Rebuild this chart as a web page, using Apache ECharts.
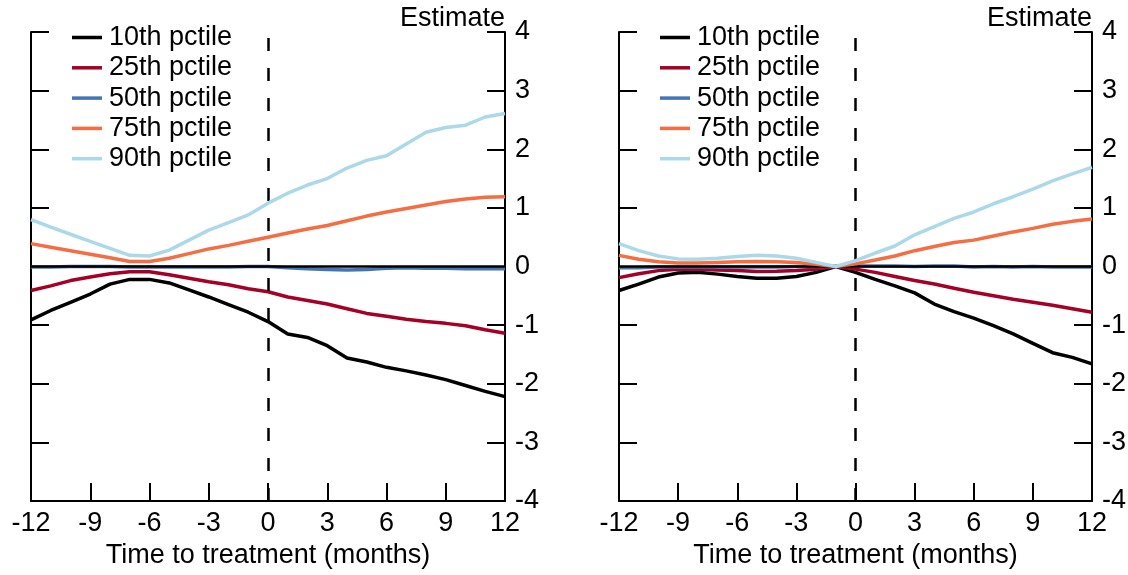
<!DOCTYPE html>
<html lang="en">
<head>
    <meta charset="UTF-8">
    <title>Estimate by percentile</title>
    <script src="https://cdn.jsdelivr.net/npm/echarts@6/dist/echarts.min.js"></script>
    <style>
        body { margin: 0; background: #fff; }
        #main { width: 1128px; height: 575px; }
    </style>
</head>
<body>
<div id="main"></div>
<script type="text/javascript">
    // months relative to treatment
    var months = [-12, -11, -10, -9, -8, -7, -6, -5, -4, -3, -2, -1, 0, 1, 2, 3, 4, 5, 6, 7, 8, 9, 10, 11, 12];
    var xTicks = [-12, -9, -6, -3, 0, 3, 6, 9, 12];
    var yTicks = [-4, -3, -2, -1, 0, 1, 2, 3, 4];
    var names = ['10th pctile', '25th pctile', '50th pctile', '75th pctile', '90th pctile'];
    var colors = ['#000000', '#a50026', '#4575b4', '#f46d43', '#abd9e9'];

    // left panel
    var left10 = [-0.91, -0.75, -0.61, -0.47, -0.30, -0.22, -0.22, -0.28, -0.40, -0.52, -0.65, -0.78, -0.94, -1.15, -1.21, -1.35, -1.56, -1.63, -1.72, -1.78, -1.85, -1.93, -2.03, -2.13, -2.22];
    var left25 = [-0.41, -0.33, -0.24, -0.18, -0.125, -0.09, -0.09, -0.14, -0.20, -0.26, -0.31, -0.38, -0.43, -0.52, -0.58, -0.64, -0.72, -0.80, -0.85, -0.90, -0.94, -0.97, -1.01, -1.08, -1.14];
    var left50 = [-0.01, -0.01, 0.0, 0.0, 0.0, -0.01, -0.01, -0.01, -0.01, -0.01, -0.01, 0.0, 0.0, -0.02, -0.04, -0.05, -0.06, -0.05, -0.03, -0.02, -0.03, -0.03, -0.04, -0.04, -0.04];
    var left75 = [0.39, 0.33, 0.27, 0.21, 0.15, 0.085, 0.085, 0.14, 0.22, 0.30, 0.36, 0.43, 0.50, 0.57, 0.64, 0.70, 0.78, 0.86, 0.93, 0.99, 1.05, 1.11, 1.15, 1.18, 1.19];
    var left90 = [0.80, 0.67, 0.55, 0.43, 0.31, 0.19, 0.18, 0.28, 0.45, 0.62, 0.75, 0.88, 1.08, 1.25, 1.39, 1.50, 1.68, 1.81, 1.89, 2.09, 2.29, 2.37, 2.41, 2.55, 2.61];

    // right panel
    var right10 = [-0.41, -0.30, -0.18, -0.11, -0.10, -0.13, -0.17, -0.20, -0.20, -0.17, -0.10, 0.0, -0.10, -0.22, -0.33, -0.45, -0.64, -0.77, -0.88, -1.01, -1.15, -1.31, -1.47, -1.55, -1.66];
    var right25 = [-0.19, -0.125, -0.07, -0.045, -0.045, -0.06, -0.07, -0.085, -0.08, -0.07, -0.045, 0.0, -0.045, -0.10, -0.17, -0.24, -0.30, -0.37, -0.44, -0.50, -0.56, -0.61, -0.66, -0.72, -0.78];
    var right50 = [-0.02, -0.02, -0.01, -0.01, -0.01, -0.01, -0.01, -0.01, -0.01, 0.0, 0.0, 0.0, 0.01, 0.01, 0.01, 0.0, 0.01, 0.01, -0.01, 0.0, -0.01, 0.0, -0.01, -0.01, -0.01];
    var right75 = [0.19, 0.125, 0.08, 0.06, 0.06, 0.07, 0.08, 0.085, 0.08, 0.07, 0.04, 0.0, 0.045, 0.11, 0.18, 0.27, 0.34, 0.41, 0.45, 0.52, 0.59, 0.65, 0.72, 0.77, 0.81];
    var right90 = [0.39, 0.27, 0.18, 0.13, 0.125, 0.14, 0.17, 0.19, 0.18, 0.14, 0.07, 0.0, 0.10, 0.23, 0.35, 0.54, 0.68, 0.82, 0.93, 1.07, 1.19, 1.32, 1.46, 1.58, 1.69];

    var panels = [
        [left10, left25, left50, left75, left90],
        [right10, right25, right50, right75, right90]
    ];

    var font = 'Liberation Sans, Arial, Helvetica, sans-serif';
    var fs = 27;
    var plotTop = 32, plotBottom = 74;
    var plotHeight = 575 - plotTop - plotBottom;

    function pairs(arr) {
        return months.map(function (m, i) { return [m, arr[i]]; });
    }

    var grids = [
        {left: 31, right: 623, top: plotTop, bottom: plotBottom, outerBoundsMode: 'none'},
        {left: 619, right: 36, top: plotTop, bottom: plotBottom, outerBoundsMode: 'none'}
    ];

    var xAxes = [], yAxes = [], legends = [], series = [];
    grids.forEach(function (g, gi) {
        xAxes.push({
            type: 'value', gridIndex: gi, position: 'bottom',
            min: xTicks[0], max: xTicks[xTicks.length - 1], interval: 3,
            name: 'Time to treatment (months)', nameLocation: 'middle', nameGap: 39,
            nameTextStyle: {color: '#000', fontSize: fs, fontFamily: font},
            axisLine: {show: true, onZero: false, lineStyle: {color: '#000', width: 2}},
            axisTick: {show: false},
            axisLabel: {color: '#000', fontSize: fs, fontFamily: font, margin: 9},
            splitLine: {show: false}
        });
        // inside ticks at the bottom edge (a top axis shifted down onto the bottom line)
        xAxes.push({
            type: 'value', gridIndex: gi, position: 'top', offset: -plotHeight,
            min: xTicks[0], max: xTicks[xTicks.length - 1], interval: 3,
            axisLine: {show: false},
            axisTick: {show: true, inside: false, length: 18, lineStyle: {color: '#000', width: 2}},
            axisLabel: {show: false},
            splitLine: {show: false}
        });
        // right axis with labels
        yAxes.push({
            type: 'value', gridIndex: gi, position: 'right', min: yTicks[0], max: yTicks[yTicks.length - 1], interval: 1,
            name: 'Estimate', nameLocation: 'end', nameGap: 0,
            nameTextStyle: {color: '#000', fontSize: fs, fontFamily: font, align: 'right'},
            axisLine: {show: true, onZero: false, lineStyle: {color: '#000', width: 2}},
            axisTick: {show: true, inside: true, length: 18, lineStyle: {color: '#000', width: 2}},
            axisLabel: {color: '#000', fontSize: fs, fontFamily: font, margin: 10},
            splitLine: {show: false}
        });
        // left axis, ticks only
        yAxes.push({
            type: 'value', gridIndex: gi, position: 'left', min: yTicks[0], max: yTicks[yTicks.length - 1], interval: 1,
            axisLine: {show: true, onZero: false, lineStyle: {color: '#000', width: 2}},
            axisTick: {show: true, inside: true, length: 18, lineStyle: {color: '#000', width: 2}},
            axisLabel: {show: false},
            splitLine: {show: false}
        });
        legends.push({
            left: gi === 0 ? 67 : 655, top: 19, orient: 'vertical',
            icon: 'rect', itemWidth: 30, itemHeight: 3.5, itemGap: 3.3,
            textStyle: {color: '#000', fontSize: fs, fontFamily: font, lineHeight: 27, padding: [0, 0, 0, 2]},
            data: names, selectedMode: false
        });
        panels[gi].forEach(function (arr, si) {
            series.push({
                name: names[si], type: 'line', xAxisIndex: gi * 2, yAxisIndex: gi * 2,
                data: pairs(arr), symbol: 'none', smooth: false,
                lineStyle: {color: colors[si], width: 3.5}, itemStyle: {color: colors[si]},
                z: 2 + si
            });
        });
        // zero line and treatment line
        series.push({
            type: 'line', xAxisIndex: gi * 2, yAxisIndex: gi * 2, data: [], z: 10,
            markLine: {
                silent: true, symbol: 'none', label: {show: false}, animation: false,
                data: [
                    {yAxis: 0, lineStyle: {color: '#000', width: 2.5, type: 'solid'}},
                    {xAxis: 0, lineStyle: {color: '#000', width: 2.5, type: [13, 17]}}
                ]
            }
        });
    });

    var myChart = echarts.init(document.getElementById('main'));
    myChart.setOption({
        animation: false,
        backgroundColor: '#fff',
        grid: grids,
        legend: legends,
        xAxis: xAxes,
        yAxis: yAxes,
        series: series
    });
</script>
</body>
</html>
